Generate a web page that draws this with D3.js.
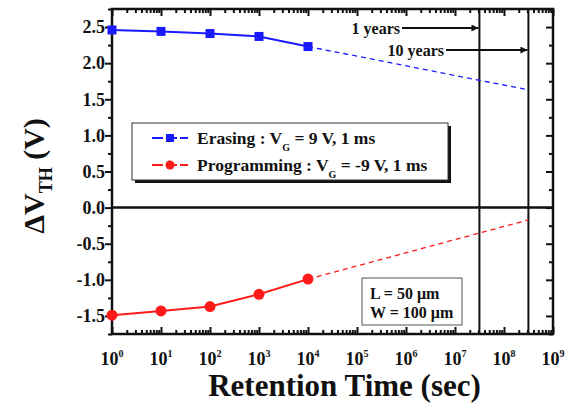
<!DOCTYPE html>
<html>
<head>
<meta charset="utf-8">
<script src="https://cdn.jsdelivr.net/npm/d3@7"></script>
<style>
  body { margin: 0; background: #fff; }
</style>
</head>
<body>
<svg id="chart" width="567" height="412"></svg>
<script>
// retention time (s) and threshold voltage shift (V)
const times = [1, 10, 100, 1000, 10000];
const erasing = [2.46, 2.44, 2.41, 2.37, 2.23];
const programming = [-1.49, -1.43, -1.37, -1.20, -0.99];
// extrapolated end points at 10 years
const extrapTime = 3.15e8;
const erasingExtrap = 1.63;
const programmingExtrap = -0.17;
const yTicks = [-1.5, -1.0, -0.5, 0.0, 0.5, 1.0, 1.5, 2.0, 2.5];
const xTickExps = [0, 1, 2, 3, 4, 5, 6, 7, 8, 9];
const markers = [{ label: "1 years", t: 3.15e7, textEnd: 288, ty: 19 }, { label: "10 years", t: 3.15e8, textEnd: 332, ty: 41 }];

const FONT = "'Liberation Serif', 'Times New Roman', Times, 'DejaVu Serif', serif";

const svg = d3.select("#chart")
    .attr("font-family", FONT).attr("font-weight", "bold").style("font-family", FONT);
const margin = { top: 9, right: 14, bottom: 78, left: 112 };
const width = +svg.attr("width");
const height = +svg.attr("height");
const innerWidth = width - margin.left - margin.right;
const innerHeight = height - margin.top - margin.bottom;

const x = d3.scaleLog().domain([1, 1e9]).range([0, innerWidth]);
const y = d3.scaleLinear().domain([-1.75, 2.75]).range([innerHeight, 0]);

const g = svg.append("g").attr("transform", `translate(${margin.left},${margin.top})`);

// minor log ticks
const minorX = [];
for (let e = 0; e < 9; e++) {
    for (let m = 2; m <= 9; m++) minorX.push(m * Math.pow(10, e));
}
const minorY = d3.range(-1.75, 2.76, 0.25).filter(v => Math.abs(v * 2 - Math.round(v * 2)) > 0.01);

function styleAxis(sel) {
    sel.select(".domain").remove();
    sel.selectAll(".tick text").remove();
    sel.selectAll(".tick line").attr("stroke", "#111").attr("stroke-width", 2);
}

// bottom axis, ticks inward
g.append("g").attr("transform", `translate(0,${innerHeight})`)
    .call(d3.axisBottom(x).tickValues(xTickExps.map(e => Math.pow(10, e))).tickSize(-7))
    .call(styleAxis);
g.append("g").attr("transform", `translate(0,${innerHeight})`)
    .call(d3.axisBottom(x).tickValues(minorX).tickSize(-4))
    .call(styleAxis);
// top axis, ticks inward
g.append("g")
    .call(d3.axisTop(x).tickValues(xTickExps.map(e => Math.pow(10, e))).tickSize(-7))
    .call(styleAxis);
g.append("g")
    .call(d3.axisTop(x).tickValues(minorX).tickSize(-4))
    .call(styleAxis);
// left axis, ticks outward
g.append("g")
    .call(d3.axisLeft(y).tickValues(yTicks).tickSize(7))
    .call(styleAxis);
g.append("g")
    .call(d3.axisLeft(y).tickValues(minorY).tickSize(4))
    .call(styleAxis);
// right axis, ticks inward
g.append("g").attr("transform", `translate(${innerWidth},0)`)
    .call(d3.axisRight(y).tickValues(yTicks).tickSize(-7))
    .call(styleAxis);
g.append("g").attr("transform", `translate(${innerWidth},0)`)
    .call(d3.axisRight(y).tickValues(minorY).tickSize(-4))
    .call(styleAxis);

// frame
g.append("rect").attr("width", innerWidth).attr("height", innerHeight)
    .attr("fill", "none").attr("stroke", "#111").attr("stroke-width", 2.5);

// y tick labels
g.selectAll(".ylab").data(yTicks).enter().append("text")
    .attr("x", -7).attr("y", d => y(d)).attr("dy", "0.35em")
    .attr("text-anchor", "end").attr("font-size", 18).attr("fill", "#111")
    .text(d => d.toFixed(1));

// x tick labels 10^n
const xl = g.selectAll(".xlab").data(xTickExps).enter().append("text")
    .attr("x", d => x(Math.pow(10, d))).attr("y", innerHeight + 31)
    .attr("text-anchor", "middle").attr("font-size", 18).attr("fill", "#111");
xl.append("tspan").text("10");
xl.append("tspan").attr("dy", -8).attr("font-size", 10).text(d => d);

// zero line
g.append("line").attr("x1", 0).attr("x2", innerWidth).attr("y1", y(0)).attr("y2", y(0))
    .attr("stroke", "#111").attr("stroke-width", 2.5);

// 1 year / 10 years markers
svg.append("defs").append("marker").attr("id", "arrow")
    .attr("viewBox", "0 0 10 10").attr("refX", 10).attr("refY", 5)
    .attr("markerWidth", 5.5).attr("markerHeight", 3.5).attr("orient", "auto")
    .attr("markerUnits", "strokeWidth")
    .append("path").attr("d", "M0,0 L10,5 L0,10 Z").attr("fill", "#111");

markers.forEach(m => {
    const mx = x(m.t);
    g.append("line").attr("x1", mx).attr("x2", mx).attr("y1", 0).attr("y2", innerHeight)
        .attr("stroke", "#111").attr("stroke-width", 2);
    g.append("text").attr("x", m.textEnd).attr("y", m.ty).attr("dy", "0.35em")
        .attr("text-anchor", "end").attr("font-size", 16).attr("fill", "#111").text(m.label);
    g.append("line").attr("x1", m.textEnd + 2).attr("x2", mx - 1).attr("y1", m.ty).attr("y2", m.ty)
        .attr("stroke", "#111").attr("stroke-width", 2).attr("marker-end", "url(#arrow)");
});

// series
const line = d3.line().x(d => x(d[0])).y(d => y(d[1]));
const series = [
    { name: "Erasing", values: erasing, extrap: erasingExtrap, color: "#1a1aff", shape: "square" },
    { name: "Programming", values: programming, extrap: programmingExtrap, color: "#ff1a1a", shape: "circle" }
];

series.forEach(s => {
    const pts = times.map((t, i) => [t, s.values[i]]);
    const last = pts[pts.length - 1];
    g.append("path").datum([last, [extrapTime, s.extrap]]).attr("d", line)
        .attr("fill", "none").attr("stroke", s.color).attr("stroke-width", 1.3)
        .attr("stroke-dasharray", "5,4");
    g.append("path").datum(pts).attr("d", line)
        .attr("fill", "none").attr("stroke", s.color).attr("stroke-width", 2);
    if (s.shape === "square") {
        g.selectAll(null).data(pts).enter().append("rect")
            .attr("x", d => x(d[0]) - 4.5).attr("y", d => y(d[1]) - 4.5)
            .attr("width", 9).attr("height", 9).attr("fill", s.color);
    } else {
        g.selectAll(null).data(pts).enter().append("circle")
            .attr("cx", d => x(d[0])).attr("cy", d => y(d[1])).attr("r", 5.5)
            .attr("fill", s.color);
    }
});

// legend
const lg = g.append("g").attr("transform", "translate(20,114)");
lg.append("rect").attr("x", 3).attr("y", 3).attr("width", 316).attr("height", 57).attr("fill", "#111");
lg.append("rect").attr("width", 316).attr("height", 57).attr("fill", "#fff")
    .attr("stroke", "#333").attr("stroke-width", 1);
series.forEach((s, i) => {
    const ly = 15 + i * 27;
    lg.append("line").attr("x1", 20).attr("x2", 56).attr("y1", ly).attr("y2", ly)
        .attr("stroke", s.color).attr("stroke-width", 2).attr("stroke-dasharray", "11,3");
    if (s.shape === "square") {
        lg.append("rect").attr("x", 34).attr("y", ly - 4).attr("width", 8).attr("height", 8).attr("fill", s.color);
    } else {
        lg.append("circle").attr("cx", 38).attr("cy", ly).attr("r", 4.5).attr("fill", s.color);
    }
    const t = lg.append("text").attr("x", 65).attr("y", ly).attr("dy", "0.35em")
        .attr("font-size", 17.5).attr("fill", "#111");
    t.append("tspan").text(s.name + " : V");
    t.append("tspan").attr("dy", 7).attr("font-size", 10).text("G");
    t.append("tspan").attr("dy", -7).text(i === 0 ? " = 9 V, 1 ms" : " = -9 V, 1 ms");
});

// device size box
const db = g.append("g").attr("transform", "translate(250,269)");
db.append("rect").attr("width", 100).attr("height", 47).attr("fill", "#fff")
    .attr("stroke", "#555").attr("stroke-width", 1);
db.append("text").attr("x", 8).attr("y", 15).attr("dy", "0.35em").attr("font-size", 16)
    .attr("fill", "#111").text("L = 50 \u03bcm");
db.append("text").attr("x", 8).attr("y", 34).attr("dy", "0.35em").attr("font-size", 16)
    .attr("fill", "#111").text("W = 100 \u03bcm");

// axis titles
svg.append("text").attr("x", margin.left + innerWidth / 2 + 12).attr("y", 396)
    .attr("text-anchor", "middle").attr("font-size", 31).attr("fill", "#111")
    .text("Retention Time (sec)");
const yt = svg.append("text").attr("transform", `translate(44,176) rotate(-90)`)
    .attr("text-anchor", "middle").attr("font-size", 30).attr("fill", "#111");
yt.append("tspan").text("\u0394V");
yt.append("tspan").attr("dy", 8).attr("font-size", 18).text("TH");
yt.append("tspan").attr("dy", -8).text(" (V)");
</script>
</body>
</html>
